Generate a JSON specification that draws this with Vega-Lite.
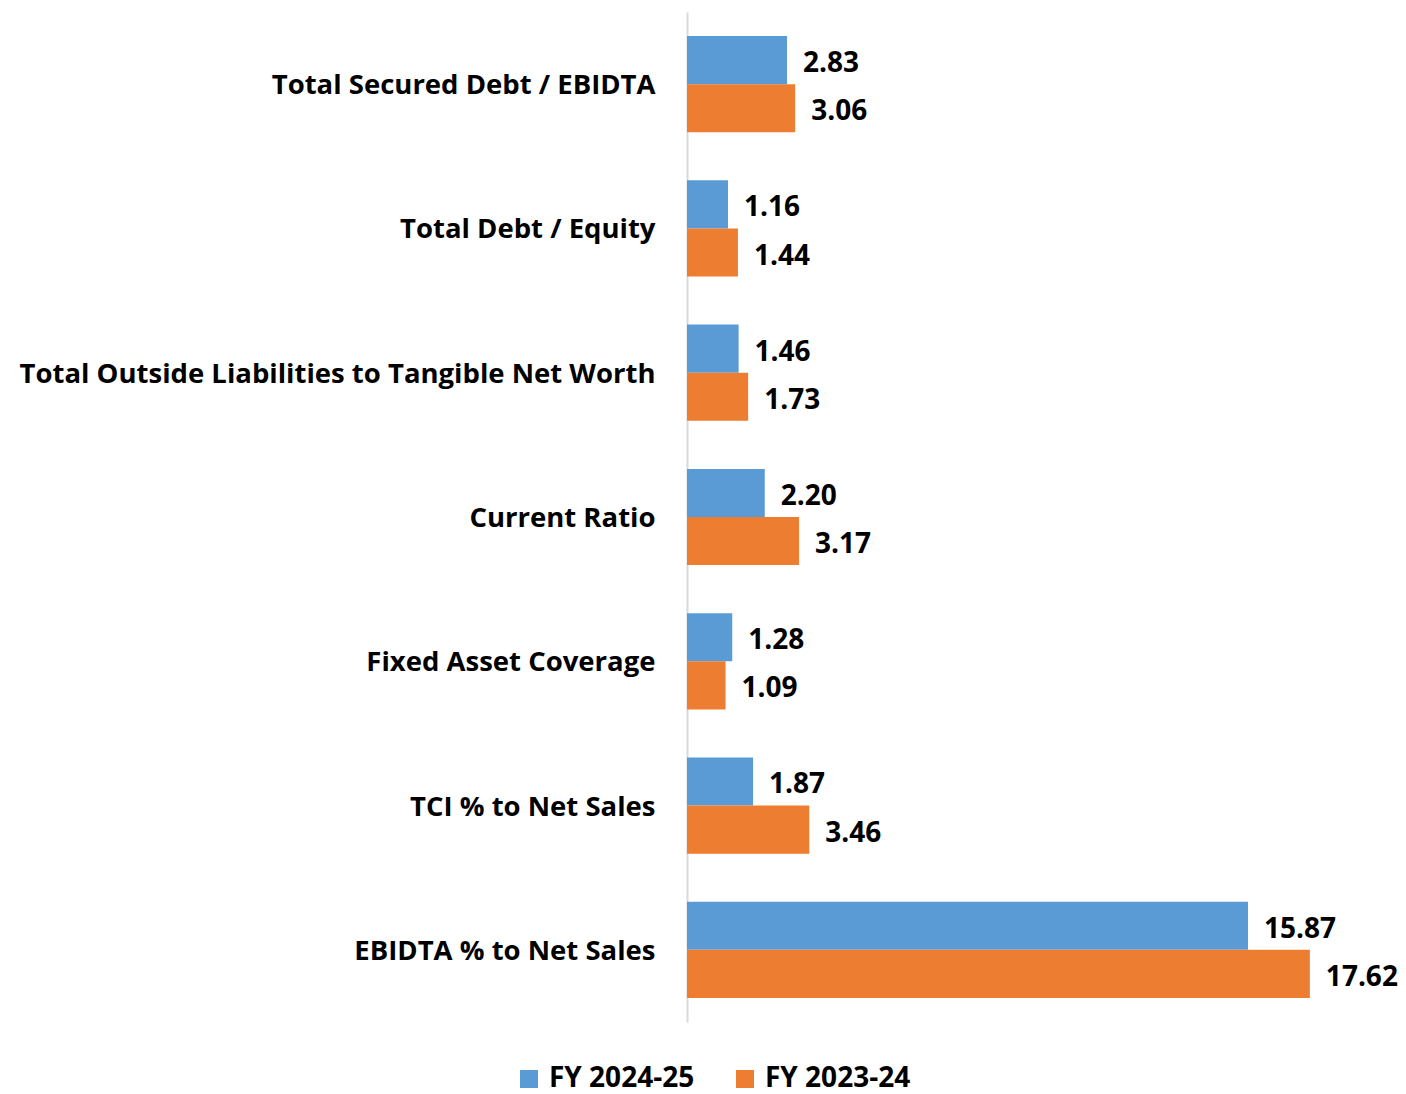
{
  "$schema": "https://vega.github.io/schema/vega-lite/v6.json",
  "width": 707,
  "height": 1010,
  "autosize": {"type": "none"},
  "padding": {"left": 687, "top": 12, "right": 12, "bottom": 72},
  "background": "white",
  "config": {"view": {"stroke": null}, "font": "Open Sans"},
  "data": {
    "values": [
      {"category": "Total Secured Debt / EBIDTA", "series": "FY 2024-25", "value": 2.83},
      {"category": "Total Secured Debt / EBIDTA", "series": "FY 2023-24", "value": 3.06},
      {"category": "Total Debt / Equity", "series": "FY 2024-25", "value": 1.16},
      {"category": "Total Debt / Equity", "series": "FY 2023-24", "value": 1.44},
      {"category": "Total Outside Liabilities to Tangible Net Worth", "series": "FY 2024-25", "value": 1.46},
      {"category": "Total Outside Liabilities to Tangible Net Worth", "series": "FY 2023-24", "value": 1.73},
      {"category": "Current Ratio", "series": "FY 2024-25", "value": 2.20},
      {"category": "Current Ratio", "series": "FY 2023-24", "value": 3.17},
      {"category": "Fixed Asset Coverage", "series": "FY 2024-25", "value": 1.28},
      {"category": "Fixed Asset Coverage", "series": "FY 2023-24", "value": 1.09},
      {"category": "TCI % to Net Sales", "series": "FY 2024-25", "value": 1.87},
      {"category": "TCI % to Net Sales", "series": "FY 2023-24", "value": 3.46},
      {"category": "EBIDTA % to Net Sales", "series": "FY 2024-25", "value": 15.87},
      {"category": "EBIDTA % to Net Sales", "series": "FY 2023-24", "value": 17.62}
    ]
  },
  "encoding": {
    "y": {
      "field": "category",
      "type": "nominal",
      "sort": null,
      "scale": {"paddingInner": 0.333, "paddingOuter": 0.1667},
      "axis": {
        "title": null,
        "ticks": false,
        "domainColor": "#D9D9D9",
        "domainWidth": 2,
        "labelFontSize": 27.5,
        "labelFontWeight": "bold",
        "labelColor": "black",
        "labelPadding": 32,
        "labelOffset": 2,
        "labelLimit": 800
      }
    },
    "yOffset": {
      "field": "series",
      "type": "nominal",
      "sort": ["FY 2024-25", "FY 2023-24"],
      "scale": {"paddingInner": 0, "paddingOuter": 0}
    },
    "x": {
      "field": "value",
      "type": "quantitative",
      "scale": {"domain": [0, 20], "nice": false},
      "axis": null
    }
  },
  "layer": [
    {
      "mark": {"type": "bar"},
      "encoding": {
        "color": {
          "field": "series",
          "type": "nominal",
          "sort": ["FY 2024-25", "FY 2023-24"],
          "scale": {"domain": ["FY 2024-25", "FY 2023-24"], "range": ["#5B9BD5", "#ED7D31"]},
          "legend": {
            "title": null,
            "orient": "none",
            "direction": "horizontal",
            "legendX": -172,
            "legendY": 1053,
            "symbolType": "square",
            "symbolSize": 324,
            "symbolStrokeWidth": 0,
            "labelFontSize": 28,
            "labelFontWeight": "bold",
            "labelColor": "black",
            "labelOffset": 6,
            "columnPadding": 36,
            "padding": 0
          }
        }
      }
    },
    {
      "mark": {"type": "text", "align": "left", "baseline": "middle", "dx": 16, "dy": 4, "fontSize": 28, "fontWeight": "bold", "color": "black"},
      "encoding": {
        "text": {"field": "value", "type": "quantitative", "format": ".2f"}
      }
    }
  ]
}
